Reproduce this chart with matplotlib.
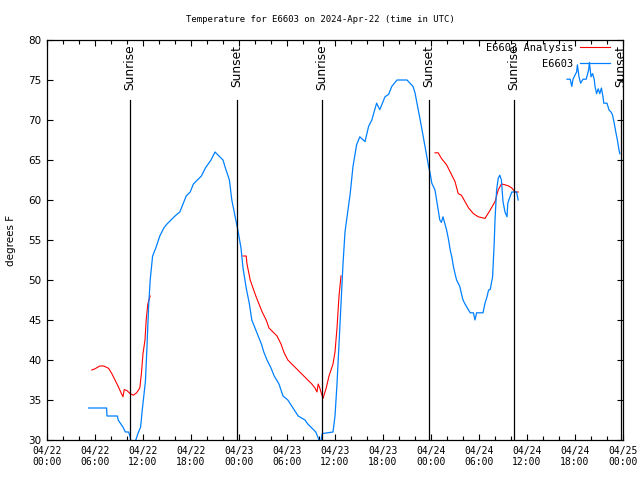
from datetime import datetime, timedelta

import matplotlib
matplotlib.use("Agg")
from matplotlib import pyplot as plt
import matplotlib.dates as mdates

# hours after 2024-04-22 00:00 UTC, observed temps (E6603)
obs1_hours = [5.2, 7.45, 7.5, 8.8, 8.9, 9.3, 9.5, 9.8, 10.2, 10.4,
              10.6, 11.1, 11.4, 11.7, 11.9, 12.3, 12.5, 12.7, 12.9, 13.2,
              13.6, 14.1, 14.6, 15.0, 15.5, 16.0, 16.6, 17.0, 17.4, 17.9,
              18.3, 18.8, 19.3, 19.8, 20.5, 21.0, 21.5, 22.0, 22.3, 22.8,
              23.1, 23.5, 23.9, 24.25, 24.5, 24.9, 25.3, 25.6, 26.0, 26.4,
              26.8, 27.1, 27.5, 28.0, 28.4, 29.0, 29.5, 30.1, 30.75, 31.4,
              32.25, 32.6, 33.1, 33.6, 34.0, 34.1, 34.4, 35.75, 36.0, 36.25,
              36.5, 36.75, 37.0, 37.25, 37.9, 38.25, 38.7, 39.1, 39.75, 40.2,
              40.6, 41.2, 41.6, 42.25, 42.7, 43.1, 43.75, 45.0, 45.75, 46.0,
              46.4, 46.8, 47.25, 47.7, 47.9, 48.1, 48.5, 48.7, 48.9, 49.1,
              49.3, 49.5, 49.75, 49.95, 50.2, 50.4, 50.6, 50.8, 51.0, 51.2,
              51.6, 51.8, 52.0, 52.25, 52.9, 53.3, 53.5, 53.7, 54.5, 54.75,
              55.0, 55.2, 55.4, 55.7, 55.9, 56.0, 56.2, 56.4, 56.6, 56.8,
              57.0, 57.25, 57.5, 57.6, 57.8, 58.1, 58.5, 58.7, 58.9]
obs1_temp = [34, 34, 33, 33, 32.5, 31.9, 31.6, 31, 31, 30.4,
             29, 30, 30.9, 31.6, 33.7, 37.3, 41.7, 46.7, 50, 53,
             54, 55.5, 56.5, 57, 57.5, 58, 58.5, 59.5, 60.5, 61,
             62, 62.5, 63, 64, 65, 66, 65.5, 65, 64, 62.5,
             60, 58, 56, 54, 51.5, 49, 47, 45, 44, 43,
             42, 41, 40, 39, 38, 37, 35.5, 35, 34, 33,
             32.5, 32, 31.5, 31, 30, 29, 30.8, 31, 33, 37,
             42, 47, 52, 56, 60.8, 64.2, 66.9, 67.9, 67.3, 69.2,
             70, 72.1, 71.3, 72.9, 73.2, 74.2, 75, 75, 74.2, 73.4,
             71.3, 69.2, 66.7, 64.2, 63.3, 62.1, 61.25, 60, 58.75, 57.5,
             57.2, 57.9, 57, 56.25, 55, 53.75, 52.9, 51.7, 50.8, 50,
             49.2, 48.3, 47.5, 47, 45.9, 45.9, 45, 45.9, 45.9, 47.1,
             47.9, 48.75, 48.8, 50.4, 54.6, 57.5, 61.25, 62.7, 63.1, 62.5,
             59.8, 58.5, 57.9, 59.6, 60.2, 61, 61, 61, 60]

obs2_hours = [65.0, 65.4, 65.6, 65.75, 66.2, 66.3, 66.5, 66.7, 67.0, 67.4,
              67.7, 67.8, 68.0, 68.2, 68.4, 68.5, 68.7, 68.9, 69.1, 69.3,
              69.5, 69.6, 70.0, 70.25, 70.5, 70.7, 70.9, 71.1, 71.3, 71.5,
              71.6]
obs2_temp = [75.1, 75.1, 74.2, 75.1, 76, 76.9, 75.4, 74.6, 75.1, 75.1,
             76.25, 77.2, 75.4, 75.8, 75.1, 74.2, 73.3, 73.9, 73.3, 74,
             72.9, 72.1, 72.1, 71.25, 71, 70.6, 69.6, 68.5, 67.5, 66.25,
             65.8]

# analysis temps (E6603 Analysis), three pieces
ana1_hours = [5.6, 6.0, 6.6, 7.1, 7.7, 8.1, 8.5, 8.9, 9.3, 9.5, 9.65,
              9.95, 10.4, 10.8, 11.2, 11.6, 11.8, 12.0, 12.25, 12.4, 12.6, 12.9]
ana1_temp = [38.75, 38.9, 39.25, 39.25, 38.96, 38.3, 37.5, 36.7, 35.8, 35.4, 36.3,
             36.2, 35.8, 35.6, 35.9, 36.5, 38.3, 40.8, 42.5, 45, 47, 48]

ana2_hours = [24.5, 24.9, 25.0, 25.4, 25.75, 26.1, 26.5, 26.9, 27.4, 27.75, 28.25,
              28.75, 29.25, 29.6, 30.1, 30.6, 31.1, 31.6, 32.1, 32.6, 33.1, 33.5,
              33.75, 33.9, 34.1, 34.25, 34.5, 34.9, 35.25, 35.75, 36.0, 36.25, 36.5, 36.75]
ana2_temp = [53, 53, 52, 50, 49, 48, 47, 46, 45, 44, 43.5,
             43, 42, 41, 40, 39.5, 39, 38.5, 38, 37.5, 37, 36.5,
             36, 37, 36.5, 36, 35.2, 36.5, 38, 39.5, 41, 44, 48, 50.5]

ana3_hours = [48.5, 48.9, 49.3, 49.95, 50.6, 51.0, 51.4, 51.8, 52.25, 52.7, 53.3,
              53.9, 54.75, 55.4, 56.0, 56.4, 56.8, 57.25, 57.7, 58.1, 58.5, 58.9]
ana3_temp = [65.9, 65.9, 65.2, 64.4, 63.1, 62.3, 60.8, 60.6, 59.8, 59, 58.3,
             57.9, 57.7, 58.75, 59.8, 61.25, 62, 61.9, 61.75, 61.5, 61, 61]

sun_hours = [10.37, 23.78, 34.35, 47.70, 58.33, 71.75]
sun_labels = ["Sunrise", "Sunset", "Sunrise", "Sunset", "Sunrise", "Sunset"]

t0 = datetime(2024, 4, 22)


def to_time(hours):
    return [t0 + timedelta(hours=h) for h in hours]


plt.rcParams['font.family'] = 'DejaVu Sans Mono'
plt.rcParams['font.size'] = 7

fig = plt.figure(figsize=(6.4, 4.8), dpi=100)
ax = fig.add_axes([47 / 640, 40 / 480, 576 / 640, 400 / 480])

red = 'red'
blue = '#0080ff'
ax.plot(to_time(ana1_hours), ana1_temp, color=red, lw=0.8, label='E6603 Analysis')
ax.plot(to_time(ana2_hours), ana2_temp, color=red, lw=0.8)
ax.plot(to_time(ana3_hours), ana3_temp, color=red, lw=0.8)
ax.plot(to_time(obs1_hours), obs1_temp, color=blue, lw=0.9, label='E6603')
ax.plot(to_time(obs2_hours), obs2_temp, color=blue, lw=0.9)

for h, lab in zip(sun_hours, sun_labels):
    t = t0 + timedelta(hours=h)
    ax.plot([t, t], [30, 72.5], color='black', lw=0.9)
    ax.text(t, 79.4, lab, rotation=90, ha='center', va='top', fontsize=8.8,
            family='DejaVu Sans')

ax.set_xlim(t0, t0 + timedelta(hours=72))
ax.set_ylim(30, 80)
ax.set_yticks(range(30, 81, 5))
ax.xaxis.set_major_locator(mdates.HourLocator(byhour=[0, 6, 12, 18]))
ax.xaxis.set_minor_locator(mdates.HourLocator(interval=2))
ax.xaxis.set_major_formatter(mdates.DateFormatter('%m/%d\n%H:%M'))
ax.tick_params(which='both', direction='in', top=True, right=True, width=0.8)
ax.tick_params(which='major', length=4.5, pad=4)
ax.tick_params(which='minor', length=3)
ax.tick_params(axis='y', labelsize=7.5)
for lbl in ax.get_yticklabels():
    lbl.set_family('DejaVu Sans')
for s in ax.spines.values():
    s.set_linewidth(0.9)

ax.set_ylabel('degrees F', family='DejaVu Sans', fontsize=7.5, labelpad=9)
fig.text(0.5, 1 - 20 / 480, 'Temperature for E6603 on 2024-Apr-22 (time in UTC)',
         ha='center', va='center', fontsize=6.5)

ax.legend(loc='upper right', bbox_to_anchor=(0.977, 0.9925), markerfirst=False,
          frameon=False, handlelength=2.9, handletextpad=0.6, labelspacing=0.55,
          borderaxespad=0, borderpad=0, fontsize=7.5)

fig.savefig('out.png', dpi=100)
